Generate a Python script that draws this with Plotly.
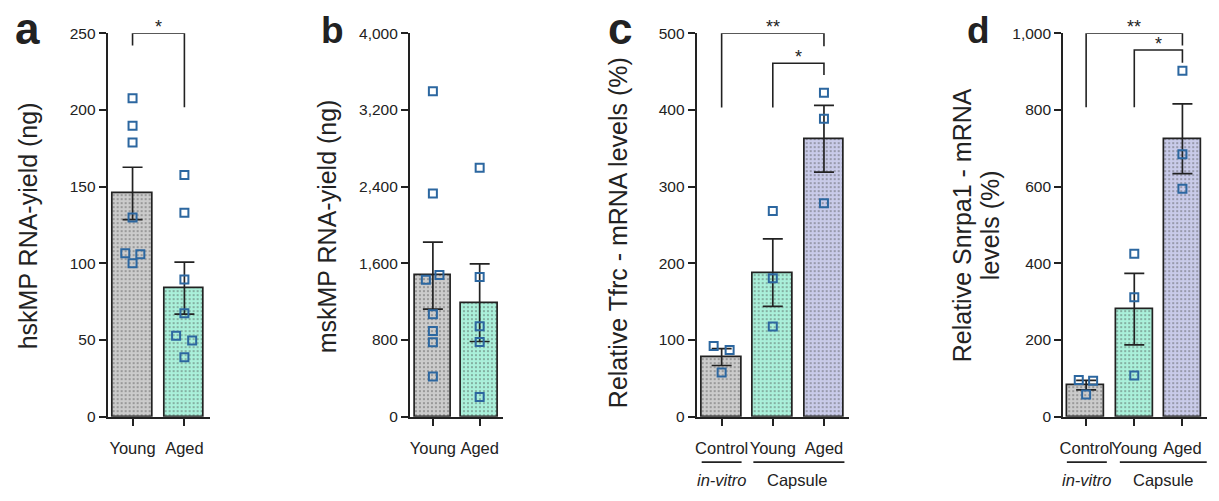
import plotly.graph_objects as go

W, H = 1219, 501

# ---------------- data ----------------
a_cats = ["Young", "Aged"]
a_means = [145.5, 83.8]
a_sem = [17.1, 17.0]
a_young_pts = [207.6, 189.7, 178.8, 129.9, 106.6, 105.8, 100.0]
a_aged_pts = [157.6, 132.9, 89.4, 67.4, 52.7, 49.7, 38.8]

b_cats = ["Young", "Aged"]
b_means = [1471, 1189]
b_sem = [350, 405]
b_young_pts = [3395, 2327, 1478, 1428, 1068, 894, 776, 420]
b_aged_pts = [2596, 1458, 944, 779, 205]

c_cats = ["Control", "Young", "Aged"]
c_means = [77.7, 187.7, 362.3]
c_sem = [11.0, 44.0, 43.5]
c_control_pts = [92.0, 87.0, 57.5]
c_young_pts = [268.3, 180.5, 117.5]
c_aged_pts = [422.3, 388.3, 278.3]

d_cats = ["Control", "Young", "Aged"]
d_means = [82.3, 280.4, 724.7]
d_sem = [12.5, 93.0, 91.0]
d_control_pts = [95.7, 94.0, 58.0]
d_young_pts = [425.0, 311.6, 107.6]
d_aged_pts = [901.8, 684.4, 594.5]

y_titles = ["hskMP RNA-yield (ng)", "mskMP RNA-yield (ng)",
            "Relative Tfrc - mRNA levels (%)", "Relative Snrpa1 - mRNA", "levels (%)"]
group_labels = ["in-vitro", "Capsule"]

# significance brackets: (panel, x0, x1, top, left-leg end, right-leg end, label)
brackets = [
    (0, 0, 1, 250, 242, 201.7, "*"),
    (2, 0, 2, 500, 403, 483, "**"),
    (2, 1, 2, 460.8, 403, 445.4, "*"),
    (3, 0, 2, 1000, 807, 968, "**"),
    (3, 1, 2, 956, 807, 923, "*"),
]

# ---------------- layout helpers (pixels -> paper) ----------------
def px(x):
    return x / W

def py(y):
    return 1 - y / H

FILL = ["#cbcbcb", "#aaf0da", "#c9cbe9"]
DOT = ["#a4a4a4", "#7fd2b8", "#a6a9d2"]
PT = "#2c67a0"
INK = "#222222"
FONT = "Arial, Liberation Sans, Helvetica, sans-serif"

panels = [
    dict(cats=a_cats, means=a_means, sem=a_sem, pts=[a_young_pts, a_aged_pts],
         dx=[[0, 0, 0, 0, -0.14, 0.15, 0], [0, 0, 0, 0, -0.16, 0.15, 0]],
         fills=[FILL[0], FILL[1]], dots=[DOT[0], DOT[1]],
         xd=(104, 207), xr=(-0.48, 1.5), yr=(0, 250), dtick=50, fmt="", bw=0.76),
    dict(cats=b_cats, means=b_means, sem=b_sem, pts=[b_young_pts, b_aged_pts],
         dx=[[0, 0, 0.14, -0.15, 0, 0, 0, 0], [0, 0, 0, 0, 0]],
         fills=[FILL[0], FILL[1]], dots=[DOT[0], DOT[1]],
         xd=(407.3, 500.7), xr=(-0.49, 1.5), yr=(0, 4000), dtick=800, fmt=",", bw=0.78),
    dict(cats=c_cats, means=c_means, sem=c_sem, pts=[c_control_pts, c_young_pts, c_aged_pts],
         dx=[[-0.156, 0.156, 0], [0, 0, 0], [0, 0, 0]],
         fills=FILL, dots=DOT,
         xd=(695, 847.3), xr=(-0.487, 2.48), yr=(0, 500), dtick=100, fmt="", bw=0.77),
    dict(cats=d_cats, means=d_means, sem=d_sem, pts=[d_control_pts, d_young_pts, d_aged_pts],
         dx=[[-0.153, 0.145, 0], [0, 0, 0], [0, 0, 0]],
         fills=FILL, dots=DOT,
         xd=(1062.7, 1206.7), xr=(-0.476, 2.505), yr=(0, 1000), dtick=200, fmt=",", bw=0.77),
]

fig = go.Figure()
layout = {}
annotations = []
shapes = []

for i, p in enumerate(panels):
    n = i + 1
    xa = "x" if n == 1 else f"x{n}"
    ya = "y" if n == 1 else f"y{n}"
    xs = list(range(len(p["cats"])))
    fig.add_trace(go.Bar(
        x=xs, y=p["means"], width=p["bw"], xaxis=xa, yaxis=ya, showlegend=False,
        marker=dict(color=p["fills"], line=dict(color=INK, width=1.7),
                    pattern=dict(shape=".", fgcolor=p["dots"], size=4, solidity=0.2)),
        error_y=dict(type="data", array=p["sem"], arrayminus=p["sem"], symmetric=False,
                     color=INK, thickness=1.7, width=10),
    ))
    for k, vals in enumerate(p["pts"]):
        fig.add_trace(go.Scatter(
            x=[k + d for d in p["dx"][k]], y=vals, mode="markers", xaxis=xa, yaxis=ya,
            showlegend=False, cliponaxis=False,
            marker=dict(symbol="square-open", size=8, color=PT, line=dict(width=2, color=PT)),
        ))
    xkey = "xaxis" if n == 1 else f"xaxis{n}"
    ykey = "yaxis" if n == 1 else f"yaxis{n}"
    layout[xkey] = dict(domain=[px(p["xd"][0]), px(p["xd"][1])], range=list(p["xr"]),
                        anchor=ya, tickvals=xs, ticktext=p["cats"], showline=True,
                        linecolor=INK, linewidth=2, ticks="outside", ticklen=7,
                        tickwidth=1.7, tickcolor=INK, showgrid=False, zeroline=False,
                        tickangle=0,
                        tickfont=dict(size=16.5, color=INK, family=FONT), ticklabelstandoff=9,
                        fixedrange=True)
    layout[ykey] = dict(domain=[py(422), py(25)], range=list(p["yr"]), anchor=xa,
                        dtick=p["dtick"], tickformat=p["fmt"], showline=True, linecolor=INK,
                        linewidth=2, ticks="outside", ticklen=7, tickwidth=1.7,
                        tickcolor=INK, showgrid=False, zeroline=False,
                        tickfont=dict(size=15.5, color=INK, family=FONT), fixedrange=True)

# brackets
for (pi, x0, x1, top, l0, l1, lab) in brackets:
    n = pi + 1
    xa = "x" if n == 1 else f"x{n}"
    ya = "y" if n == 1 else f"y{n}"
    fig.add_trace(go.Scatter(x=[x0, x0, x1, x1], y=[l0, top, top, l1], mode="lines",
                             xaxis=xa, yaxis=ya, showlegend=False, cliponaxis=False,
                             line=dict(color=INK, width=1.6)))
    annotations.append(dict(x=(x0 + x1) / 2, y=top, xref=xa, yref=ya, text=lab,
                            showarrow=False, yanchor="middle", yshift=6,
                            font=dict(size=18, color=INK, family=FONT)))

# y-axis titles
title_pos = [(24, 224), (324, 225), (616, 231), (962, 224), (990, 224)]
for t, (tx, ty) in zip(y_titles, title_pos):
    annotations.append(dict(x=px(tx), y=py(ty), xref="paper", yref="paper", text=t,
                            textangle=-90, showarrow=False, xanchor="center", yanchor="middle",
                            font=dict(size=25, color=INK, family=FONT)))

# panel letters
letters = [("a", 24, 20, 44), ("b", 330, 22.5, 37), ("c", 618, 20, 44), ("d", 978, 22.5, 37)]
for t, lx, ly, fs in letters:
    annotations.append(dict(x=px(lx), y=py(ly), xref="paper", yref="paper",
                            text=f"<b>{t}</b>", showarrow=False, xanchor="center",
                            yanchor="middle", font=dict(size=fs, color=INK, family=FONT)))

# group underlines and labels for c and d
groups = [
    ("x3", [(-0.39, 0.39), (0.62, 2.4)], [0.0, 1.49]),
    ("x4", [(-0.4, 0.43), (0.7, 2.55)], [0.02, 1.6]),
]
for xa, segs, cx in groups:
    for (s0, s1) in segs:
        shapes.append(dict(type="line", xref=xa, yref="paper", x0=s0, x1=s1,
                           y0=py(469), y1=py(469), line=dict(color=INK, width=1.7)))
    annotations.append(dict(x=cx[0], y=py(488), xref=xa, yref="paper",
                            text=f"<i>{group_labels[0]}</i>", showarrow=False,
                            xanchor="center", yanchor="middle",
                            font=dict(size=16.5, color=INK, family=FONT)))
    annotations.append(dict(x=cx[1], y=py(488), xref=xa, yref="paper",
                            text=group_labels[1], showarrow=False,
                            xanchor="center", yanchor="middle",
                            font=dict(size=16.5, color=INK, family=FONT)))

fig.update_layout(
    width=W, height=H, margin=dict(l=0, r=0, t=0, b=0),
    paper_bgcolor="white", plot_bgcolor="white",
    annotations=annotations, shapes=shapes, bargap=0,
    font=dict(family=FONT, color=INK),
    **layout,
)

fig.write_html("out.html", config={"displayModeBar": False},
               post_script="document.body.style.margin='0';document.body.style.overflow='hidden';")
